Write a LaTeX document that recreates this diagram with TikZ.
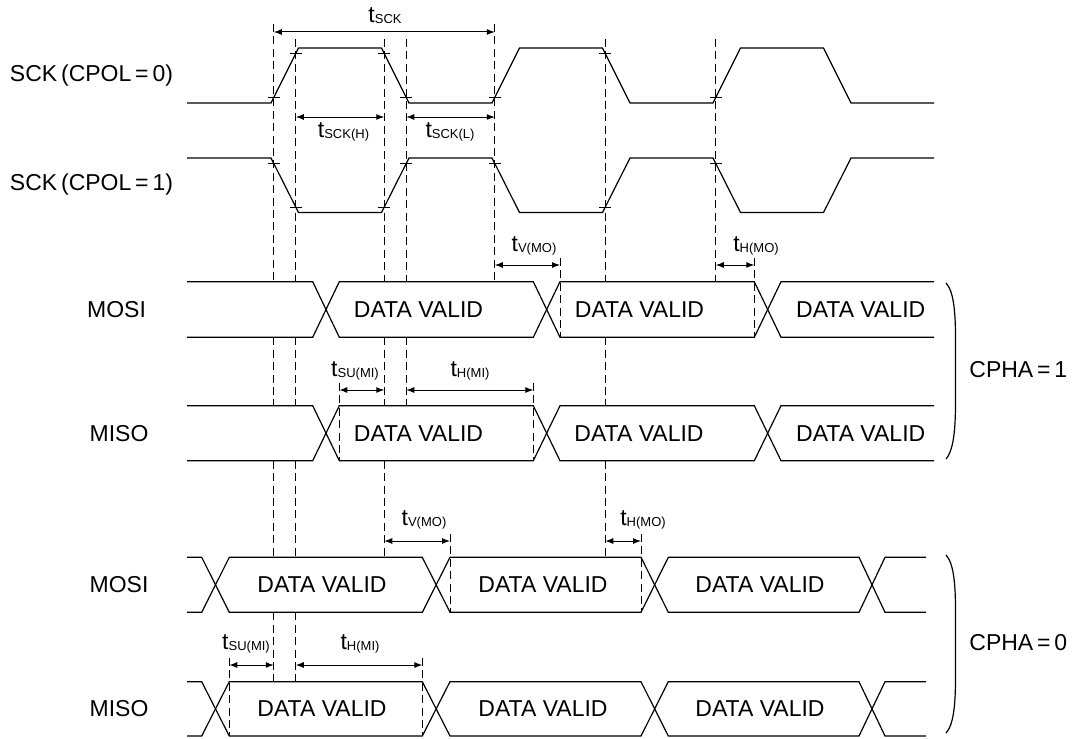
\documentclass[tikz,border=0pt]{standalone}
\usepackage{fontspec}
\setmainfont{Liberation Sans}
\usetikzlibrary{arrows.meta}
\newcommand{\tsub}[1]{t\raisebox{-0.6pt}{\fontsize{6.5}{7}\selectfont #1}}

\begin{document}
\begin{tikzpicture}[x=0.5pt, y=-0.5pt,
    wave/.style={line width=0.6pt, line join=miter},
    guide/.style={dash pattern=on 4pt off 2.2pt, line width=0.45pt},
    dim/.style={{Latex[length=4pt,width=3pt]}-{Latex[length=4pt,width=3pt]}, line width=0.5pt},
    lbl/.style={font=\fontsize{11.5}{13}\selectfont, inner sep=0pt},
    tick/.style={line width=0.45pt}
  ]
  \useasboundingbox (0,0) rectangle (1074,738);

  % signal names
  \node[lbl, anchor=west] (sck0) at (9.6,75.5) {SCK\,(CPOL\,=\,0)};
  \node[lbl, anchor=west] (sck1) at (9.6,185) {SCK\,(CPOL\,=\,1)};
  \node[lbl] (mosi1) at (116.5,309.5) {MOSI};
  \node[lbl] (miso1) at (119,433.2) {MISO};
  \node[lbl] (mosi0) at (119,584.8) {MOSI};
  \node[lbl] (miso0) at (119,708.8) {MISO};

  % clocks
  \draw[wave] (187,103) -- (271,103) -- (298.5,48) -- (381.5,48) -- (409,103)
    -- (492,103) -- (519.5,48) -- (602.5,48) -- (630,103) -- (713,103)
    -- (740.5,48) -- (823.5,48) -- (851,103) -- (934,103);
  \draw[wave] (187,158) -- (271,158) -- (298.5,212.5) -- (381.5,212.5) -- (409,158)
    -- (492,158) -- (519.5,212.5) -- (602.5,212.5) -- (630,158) -- (713,158)
    -- (740.5,212.5) -- (823.5,212.5) -- (851,158) -- (934,158);
  \draw[tick] (267.75,97.5) -- +(12,0) (289.75,53.5) -- +(12,0)
    (378.25,53.5) -- +(12,0) (400.25,97.5) -- +(12,0) (488.75,97.5) -- +(12,0)
    (599.25,53.5) -- +(12,0) (709.75,97.5) -- +(12,0);
  \draw[tick] (267.75,163.5) -- +(12,0) (289.75,207) -- +(12,0)
    (378.25,207) -- +(12,0) (400.25,163.5) -- +(12,0) (488.75,163.5) -- +(12,0)
    (599.25,207) -- +(12,0) (709.75,163.5) -- +(12,0);

  % CPHA = 1 data
  \draw[wave] (187,281.7) -- (312.7,281.7) -- (339.3,337.3) -- (533.3,337.3) -- (560,281.7)
    -- (754.3,281.7) -- (781,337.3) -- (934,337.3);
  \draw[wave] (187,337.3) -- (312.7,337.3) -- (339.3,281.7) -- (533.3,281.7) -- (560,337.3)
    -- (754.3,337.3) -- (781,281.7) -- (934,281.7);
  \draw[wave] (187,405.7) -- (312.7,405.7) -- (339.3,460.7) -- (533.3,460.7) -- (560,405.7)
    -- (754.3,405.7) -- (781,460.7) -- (934,460.7);
  \draw[wave] (187,460.7) -- (312.7,460.7) -- (339.3,405.7) -- (533.3,405.7) -- (560,460.7)
    -- (754.3,460.7) -- (781,405.7) -- (934,405.7);
  \node[lbl] (dv11) at (418.5,309.5) {DATA VALID};
  \node[lbl] (dv12) at (639.5,309.5) {DATA VALID};
  \node[lbl] (dv13) at (860.7,309.5) {DATA VALID};
  \node[lbl] (dv14) at (418.5,433.2) {DATA VALID};
  \node[lbl] (dv15) at (639,433.2) {DATA VALID};
  \node[lbl] (dv16) at (860.7,433.2) {DATA VALID};

  % CPHA = 0 data
  \draw[wave] (187,557.3) -- (201.7,557.3) -- (229.3,612.3) -- (422.3,612.3) -- (450,557.3)
    -- (641,557.3) -- (668.3,612.3) -- (859,612.3) -- (885,557.3) -- (926,557.3);
  \draw[wave] (187,612.3) -- (201.7,612.3) -- (229.3,557.3) -- (422.3,557.3) -- (450,612.3)
    -- (641,612.3) -- (668.3,557.3) -- (859,557.3) -- (885,612.3) -- (926,612.3);
  \draw[wave] (187,681.7) -- (201.7,681.7) -- (229.3,736) -- (422.3,736) -- (450,681.7)
    -- (641,681.7) -- (668.3,736) -- (859,736) -- (885,681.7) -- (926,681.7);
  \draw[wave] (187,736) -- (201.7,736) -- (229.3,681.7) -- (422.3,681.7) -- (450,736)
    -- (641,736) -- (668.3,681.7) -- (859,681.7) -- (885,736) -- (926,736);
  \node[lbl] (dv01) at (322,584.8) {DATA VALID};
  \node[lbl] (dv02) at (543,584.8) {DATA VALID};
  \node[lbl] (dv03) at (760,584.8) {DATA VALID};
  \node[lbl] (dv04) at (322,708.8) {DATA VALID};
  \node[lbl] (dv05) at (543,708.8) {DATA VALID};
  \node[lbl] (dv06) at (760,708.8) {DATA VALID};

  % guide lines
  \draw[guide] (273.75,24) -- (273.75,281.7) (273.75,337.3) -- (273.75,405.7)
    (273.75,460.7) -- (273.75,557.3) (273.75,612.3) -- (273.75,681.7);
  \draw[guide] (295.75,39) -- (295.75,281.7) (295.75,337.3) -- (295.75,405.7)
    (295.75,460.7) -- (295.75,557.3) (295.75,612.3) -- (295.75,681.7);
  \draw[guide] (384.25,39) -- (384.25,281.7) (384.25,337.3) -- (384.25,405.7)
    (384.25,460.7) -- (384.25,557.3);
  \draw[guide] (406.25,39) -- (406.25,281.7) (406.25,337.3) -- (406.25,405.7);
  \draw[guide] (494.75,24) -- (494.75,281.7);
  \draw[guide] (605.25,39) -- (605.25,281.7) (605.25,337.3) -- (605.25,405.7)
    (605.25,460.7) -- (605.25,557.3);
  \draw[guide] (715.75,39) -- (715.75,281.7);
  \draw[guide] (560,258) -- (560,337.3) (754.3,258) -- (754.3,337.3)
    (339.3,383) -- (339.3,460.7) (533.3,383) -- (533.3,460.7)
    (450,534) -- (450,612.3) (641,534) -- (641,612.3)
    (229.3,658) -- (229.3,736) (422.3,658) -- (422.3,736);

  % timing arrows
  \coordinate (sckA) at (273.75,32);  \coordinate (sckB) at (494.75,32);
  \coordinate (hiA) at (295.75,117);  \coordinate (hiB) at (384.25,117);
  \coordinate (loA) at (406.25,117);  \coordinate (loB) at (494.75,117);
  \coordinate (v1A) at (494.75,265);  \coordinate (v1B) at (560,265);
  \coordinate (h1A) at (715.75,265);  \coordinate (h1B) at (754.3,265);
  \coordinate (su1A) at (339.3,390);  \coordinate (su1B) at (384.25,390);
  \coordinate (hm1A) at (406.25,390); \coordinate (hm1B) at (533.3,390);
  \coordinate (v0A) at (384.25,541);  \coordinate (v0B) at (450,541);
  \coordinate (h0A) at (605.25,541);  \coordinate (h0B) at (641,541);
  \coordinate (su0A) at (229.3,665);  \coordinate (su0B) at (273.75,665);
  \coordinate (hm0A) at (295.75,665); \coordinate (hm0B) at (422.3,665);
  \draw[dim] (sckA) -- (sckB);
  \draw[dim] (hiA) -- (hiB);
  \draw[dim] (loA) -- (loB);
  \draw[dim] (v1A) -- (v1B);
  \draw[dim] (h1A) -- (h1B);
  \draw[dim] (su1A) -- (su1B);
  \draw[dim] (hm1A) -- (hm1B);
  \draw[dim] (v0A) -- (v0B);
  \draw[dim] (h0A) -- (h0B);
  \draw[dim] (su0A) -- (su0B);
  \draw[dim] (hm0A) -- (hm0B);
  \node[lbl] (tsck) at (385,16) {\tsub{SCK}};
  \node[lbl] (tsckh) at (343.5,132) {\tsub{SCK(H)}};
  \node[lbl] (tsckl) at (450,132) {\tsub{SCK(L)}};
  \node[lbl] (tv1) at (534,246) {\tsub{V(MO)}};
  \node[lbl] (th1) at (756,246) {\tsub{H(MO)}};
  \node[lbl] (tsu1) at (355,371) {\tsub{SU(MI)}};
  \node[lbl] (thm1) at (470,371) {\tsub{H(MI)}};
  \node[lbl] (tv0) at (424,520) {\tsub{V(MO)}};
  \node[lbl] (th0) at (643,520) {\tsub{H(MO)}};
  \node[lbl] (tsu0) at (246,644) {\tsub{SU(MI)}};
  \node[lbl] (thm0) at (360,644) {\tsub{H(MI)}};

  % phase brackets
  \draw[line width=0.6pt] (946,283) .. controls (957,295) and (955.5,330) .. (955.5,370)
    .. controls (955.5,410) and (957,446) .. (946,459);
  \draw[line width=0.6pt] (946,555) .. controls (957,567) and (955.5,602) .. (955.5,644)
    .. controls (955.5,686) and (957,721) .. (946,733);
  \node[lbl, anchor=west] (cpha1) at (969,370) {CPHA\,=\,1};
  \node[lbl, anchor=west] (cpha0) at (969,643) {CPHA\,=\,0};
\end{tikzpicture}
\end{document}
